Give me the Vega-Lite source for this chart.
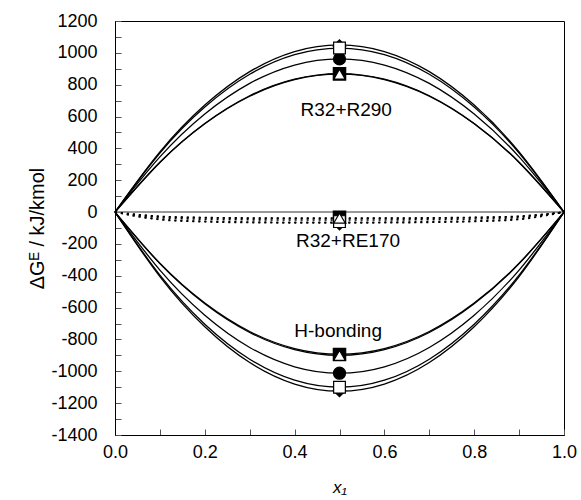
{
"$schema": "https://vega.github.io/schema/vega-lite/v6.json",
"width": 449, "height": 414,
"autosize": {"type": "none"},
"padding": {"left": 115, "top": 21, "right": 17, "bottom": 65},
"config": {
 "view": {"stroke": "black", "strokeWidth": 1},
 "font": "Liberation Sans",
 "axis": {"grid": false, "labelFlush": false, "domainColor": "black", "tickColor": "#555", "labelColor": "black", "titleColor": "black", "labelFontSize": 18, "labelFont": "Liberation Sans", "titleFont": "Liberation Sans", "titleFontWeight": "normal"}
},
"datasets": {
 "zero": [{"x": 0, "g": 0}, {"x": 1, "g": 0}],
 "curves": [
  {"s":"P","m":"D","x":0,"g":0},{"s":"P","m":"D","x":0.1,"g":378},{"s":"P","m":"D","x":0.2,"g":672},{"s":"P","m":"D","x":0.3,"g":882},{"s":"P","m":"D","x":0.4,"g":1008},{"s":"P","m":"D","x":0.5,"g":1050},{"s":"P","m":"D","x":0.6,"g":1008},{"s":"P","m":"D","x":0.7,"g":882},{"s":"P","m":"D","x":0.8,"g":672},{"s":"P","m":"D","x":0.9,"g":378},{"s":"P","m":"D","x":1,"g":0},
  {"s":"P","m":"OS","x":0,"g":0},{"s":"P","m":"OS","x":0.1,"g":370.8},{"s":"P","m":"OS","x":0.2,"g":659.2},{"s":"P","m":"OS","x":0.3,"g":865.2},{"s":"P","m":"OS","x":0.4,"g":988.8},{"s":"P","m":"OS","x":0.5,"g":1030},{"s":"P","m":"OS","x":0.6,"g":988.8},{"s":"P","m":"OS","x":0.7,"g":865.2},{"s":"P","m":"OS","x":0.8,"g":659.2},{"s":"P","m":"OS","x":0.9,"g":370.8},{"s":"P","m":"OS","x":1,"g":0},
  {"s":"P","m":"C","x":0,"g":0},{"s":"P","m":"C","x":0.1,"g":346.3},{"s":"P","m":"C","x":0.2,"g":615.7},{"s":"P","m":"C","x":0.3,"g":808.1},{"s":"P","m":"C","x":0.4,"g":923.5},{"s":"P","m":"C","x":0.5,"g":962},{"s":"P","m":"C","x":0.6,"g":923.5},{"s":"P","m":"C","x":0.7,"g":808.1},{"s":"P","m":"C","x":0.8,"g":615.7},{"s":"P","m":"C","x":0.9,"g":346.3},{"s":"P","m":"C","x":1,"g":0},
  {"s":"P","m":"FS","x":0,"g":0},{"s":"P","m":"FS","x":0.1,"g":313.2},{"s":"P","m":"FS","x":0.2,"g":556.8},{"s":"P","m":"FS","x":0.3,"g":730.8},{"s":"P","m":"FS","x":0.4,"g":835.2},{"s":"P","m":"FS","x":0.5,"g":870},{"s":"P","m":"FS","x":0.6,"g":835.2},{"s":"P","m":"FS","x":0.7,"g":730.8},{"s":"P","m":"FS","x":0.8,"g":556.8},{"s":"P","m":"FS","x":0.9,"g":313.2},{"s":"P","m":"FS","x":1,"g":0},
  {"s":"P","m":"OT","x":0,"g":0},{"s":"P","m":"OT","x":0.1,"g":311.8},{"s":"P","m":"OT","x":0.2,"g":554.2},{"s":"P","m":"OT","x":0.3,"g":727.4},{"s":"P","m":"OT","x":0.4,"g":831.4},{"s":"P","m":"OT","x":0.5,"g":866},{"s":"P","m":"OT","x":0.6,"g":831.4},{"s":"P","m":"OT","x":0.7,"g":727.4},{"s":"P","m":"OT","x":0.8,"g":554.2},{"s":"P","m":"OT","x":0.9,"g":311.8},{"s":"P","m":"OT","x":1,"g":0},
  {"s":"E","m":"D","x":0,"g":0},{"s":"E","m":"D","x":0.1,"g":-47.6},{"s":"E","m":"D","x":0.2,"g":-61.2},{"s":"E","m":"D","x":0.3,"g":-66},{"s":"E","m":"D","x":0.4,"g":-68},{"s":"E","m":"D","x":0.5,"g":-68},{"s":"E","m":"D","x":0.6,"g":-67.3},{"s":"E","m":"D","x":0.7,"g":-64.6},{"s":"E","m":"D","x":0.8,"g":-59.2},{"s":"E","m":"D","x":0.9,"g":-46.2},{"s":"E","m":"D","x":1,"g":0},
  {"s":"E","m":"OS","x":0,"g":0},{"s":"E","m":"OS","x":0.1,"g":-44.8},{"s":"E","m":"OS","x":0.2,"g":-57.6},{"s":"E","m":"OS","x":0.3,"g":-62.1},{"s":"E","m":"OS","x":0.4,"g":-64},{"s":"E","m":"OS","x":0.5,"g":-64},{"s":"E","m":"OS","x":0.6,"g":-63.4},{"s":"E","m":"OS","x":0.7,"g":-60.8},{"s":"E","m":"OS","x":0.8,"g":-55.7},{"s":"E","m":"OS","x":0.9,"g":-43.5},{"s":"E","m":"OS","x":1,"g":0},
  {"s":"E","m":"C","x":0,"g":0},{"s":"E","m":"C","x":0.1,"g":-35},{"s":"E","m":"C","x":0.2,"g":-45},{"s":"E","m":"C","x":0.3,"g":-48.5},{"s":"E","m":"C","x":0.4,"g":-50},{"s":"E","m":"C","x":0.5,"g":-50},{"s":"E","m":"C","x":0.6,"g":-49.5},{"s":"E","m":"C","x":0.7,"g":-47.5},{"s":"E","m":"C","x":0.8,"g":-43.5},{"s":"E","m":"C","x":0.9,"g":-34},{"s":"E","m":"C","x":1,"g":0},
  {"s":"E","m":"FS","x":0,"g":0},{"s":"E","m":"FS","x":0.1,"g":-28},{"s":"E","m":"FS","x":0.2,"g":-36},{"s":"E","m":"FS","x":0.3,"g":-38.8},{"s":"E","m":"FS","x":0.4,"g":-40},{"s":"E","m":"FS","x":0.5,"g":-40},{"s":"E","m":"FS","x":0.6,"g":-39.6},{"s":"E","m":"FS","x":0.7,"g":-38},{"s":"E","m":"FS","x":0.8,"g":-34.8},{"s":"E","m":"FS","x":0.9,"g":-27.2},{"s":"E","m":"FS","x":1,"g":0},
  {"s":"E","m":"OT","x":0,"g":0},{"s":"E","m":"OT","x":0.1,"g":-26.6},{"s":"E","m":"OT","x":0.2,"g":-34.2},{"s":"E","m":"OT","x":0.3,"g":-36.9},{"s":"E","m":"OT","x":0.4,"g":-38},{"s":"E","m":"OT","x":0.5,"g":-38},{"s":"E","m":"OT","x":0.6,"g":-37.6},{"s":"E","m":"OT","x":0.7,"g":-36.1},{"s":"E","m":"OT","x":0.8,"g":-33.1},{"s":"E","m":"OT","x":0.9,"g":-25.8},{"s":"E","m":"OT","x":1,"g":0},
  {"s":"H","m":"D","x":0,"g":0},{"s":"H","m":"D","x":0.1,"g":-405},{"s":"H","m":"D","x":0.2,"g":-720},{"s":"H","m":"D","x":0.3,"g":-945},{"s":"H","m":"D","x":0.4,"g":-1080},{"s":"H","m":"D","x":0.5,"g":-1125},{"s":"H","m":"D","x":0.6,"g":-1080},{"s":"H","m":"D","x":0.7,"g":-945},{"s":"H","m":"D","x":0.8,"g":-720},{"s":"H","m":"D","x":0.9,"g":-405},{"s":"H","m":"D","x":1,"g":0},
  {"s":"H","m":"OS","x":0,"g":0},{"s":"H","m":"OS","x":0.1,"g":-396},{"s":"H","m":"OS","x":0.2,"g":-704},{"s":"H","m":"OS","x":0.3,"g":-924},{"s":"H","m":"OS","x":0.4,"g":-1056},{"s":"H","m":"OS","x":0.5,"g":-1100},{"s":"H","m":"OS","x":0.6,"g":-1056},{"s":"H","m":"OS","x":0.7,"g":-924},{"s":"H","m":"OS","x":0.8,"g":-704},{"s":"H","m":"OS","x":0.9,"g":-396},{"s":"H","m":"OS","x":1,"g":0},
  {"s":"H","m":"C","x":0,"g":0},{"s":"H","m":"C","x":0.1,"g":-364.3},{"s":"H","m":"C","x":0.2,"g":-647.7},{"s":"H","m":"C","x":0.3,"g":-850.1},{"s":"H","m":"C","x":0.4,"g":-971.5},{"s":"H","m":"C","x":0.5,"g":-1012},{"s":"H","m":"C","x":0.6,"g":-971.5},{"s":"H","m":"C","x":0.7,"g":-850.1},{"s":"H","m":"C","x":0.8,"g":-647.7},{"s":"H","m":"C","x":0.9,"g":-364.3},{"s":"H","m":"C","x":1,"g":0},
  {"s":"H","m":"FS","x":0,"g":0},{"s":"H","m":"FS","x":0.1,"g":-321.5},{"s":"H","m":"FS","x":0.2,"g":-571.5},{"s":"H","m":"FS","x":0.3,"g":-750.1},{"s":"H","m":"FS","x":0.4,"g":-857.3},{"s":"H","m":"FS","x":0.5,"g":-893},{"s":"H","m":"FS","x":0.6,"g":-857.3},{"s":"H","m":"FS","x":0.7,"g":-750.1},{"s":"H","m":"FS","x":0.8,"g":-571.5},{"s":"H","m":"FS","x":0.9,"g":-321.5},{"s":"H","m":"FS","x":1,"g":0},
  {"s":"H","m":"OT","x":0,"g":0},{"s":"H","m":"OT","x":0.1,"g":-324},{"s":"H","m":"OT","x":0.2,"g":-576},{"s":"H","m":"OT","x":0.3,"g":-756},{"s":"H","m":"OT","x":0.4,"g":-864},{"s":"H","m":"OT","x":0.5,"g":-900},{"s":"H","m":"OT","x":0.6,"g":-864},{"s":"H","m":"OT","x":0.7,"g":-756},{"s":"H","m":"OT","x":0.8,"g":-576},{"s":"H","m":"OT","x":0.9,"g":-324},{"s":"H","m":"OT","x":1,"g":0}
 ],
 "points": [
  {"s":"P","m":"D","x":0.5,"g":1042},{"s":"P","m":"FS","x":0.5,"g":868},{"s":"P","m":"C","x":0.5,"g":962},{"s":"P","m":"OS","x":0.5,"g":1030},{"s":"P","m":"OT","x":0.5,"g":866},
  {"s":"E","m":"D","x":0.5,"g":-72},{"s":"E","m":"FS","x":0.5,"g":-32},{"s":"E","m":"C","x":0.5,"g":-40},{"s":"E","m":"OS","x":0.5,"g":-60},{"s":"E","m":"OT","x":0.5,"g":-38},
  {"s":"H","m":"D","x":0.5,"g":-1120},{"s":"H","m":"FS","x":0.5,"g":-895},{"s":"H","m":"C","x":0.5,"g":-1012},{"s":"H","m":"OS","x":0.5,"g":-1100},{"s":"H","m":"OT","x":0.5,"g":-900}
 ],
 "labels": [
  {"label": "R32+R290", "x": 0.515, "g": 640},
  {"label": "R32+RE170", "x": 0.519, "g": -180},
  {"label": "H-bonding", "x": 0.497, "g": -744}
 ]
},
"encoding": {
 "x": {"field": "x", "type": "quantitative", "scale": {"domain": [0, 1], "nice": false},
  "axis": {"values": [0,0.1,0.2,0.3,0.4,0.5,0.6,0.7,0.8,0.9,1], "labelExpr": "round(datum.value*10) % 2 == 0 ? format(datum.value, '.1f') : ''", "tickSize": -6, "labelPadding": 14, "title": "x₁", "titleFontStyle": "italic", "titleFontSize": 17, "titlePadding": 18}},
 "y": {"field": "g", "type": "quantitative", "scale": {"domain": [-1400, 1200], "nice": false, "zero": false},
  "axis": {"values": [-1400,-1300,-1200,-1100,-1000,-900,-800,-700,-600,-500,-400,-300,-200,-100,0,100,200,300,400,500,600,700,800,900,1000,1100,1200], "labelExpr": "datum.value % 200 == 0 ? '' + datum.value : ''", "tickSize": -6, "labelPadding": 24, "title": "ΔGᴱ / kJ/kmol", "titleFontSize": 20, "titlePadding": 3}}
},
"layer": [
 {"data": {"name": "zero"}, "mark": {"type": "line", "color": "#777", "strokeWidth": 1.5}},
 {"data": {"name": "curves"}, "transform": [{"filter": "datum.s != 'E'"}],
  "mark": {"type": "line", "color": "black", "strokeWidth": 1.3, "interpolate": "natural"},
  "encoding": {"detail": [{"field": "s"}, {"field": "m"}]}},
 {"data": {"name": "curves"}, "transform": [{"filter": "datum.s == 'E'"}],
  "mark": {"type": "line", "color": "black", "strokeWidth": 1.6, "strokeDash": [2, 4], "interpolate": "monotone"},
  "encoding": {"detail": [{"field": "s"}, {"field": "m"}]}},
 {"data": {"name": "points"},
  "mark": {"type": "point", "filled": false, "stroke": "black", "strokeWidth": 1.2, "opacity": 1},
  "encoding": {
   "shape": {"field": "m", "type": "nominal", "scale": {"domain": ["D","FS","C","OS","OT"], "range": ["diamond","square","circle","square","triangle-up"]}, "legend": null},
   "fill": {"field": "m", "type": "nominal", "scale": {"domain": ["D","FS","C","OS","OT"], "range": ["black","black","black","white","white"]}, "legend": null},
   "size": {"field": "m", "type": "nominal", "scale": {"domain": ["D","FS","C","OS","OT"], "range": [160,130,120,130,140]}, "legend": null}
  }},
 {"data": {"name": "labels"},
  "mark": {"type": "text", "fontSize": 19, "font": "Liberation Sans", "align": "center", "baseline": "middle", "color": "black"},
  "encoding": {"text": {"field": "label"}}}
]
}
